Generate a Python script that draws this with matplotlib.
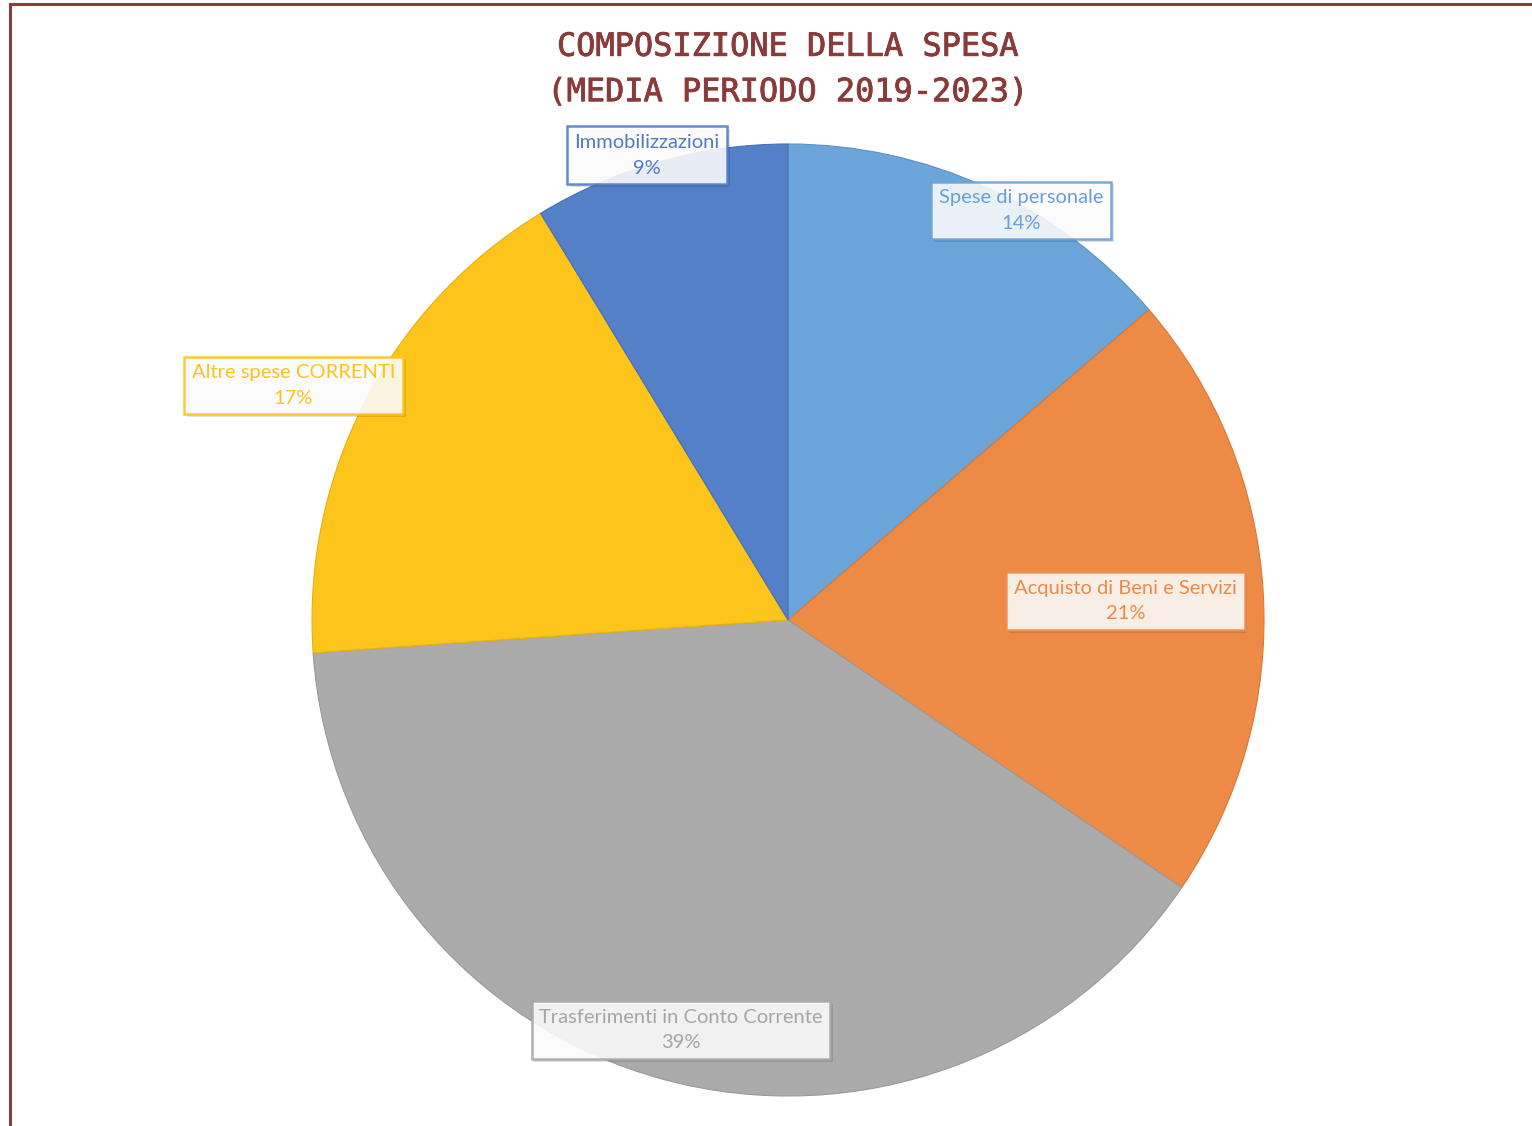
import numpy as np
import matplotlib
matplotlib.use('Agg')
import matplotlib.pyplot as plt
import matplotlib.patheffects as pe
from matplotlib.lines import Line2D

# data (percent of total spending)
labels = ['Spese di personale', 'Acquisto di Beni e Servizi',
          'Trasferimenti in Conto Corrente', 'Altre spese CORRENTI',
          'Immobilizzazioni']
values = [13.7, 20.8, 39.4, 17.4, 8.7]
colors = ['#6BA5D9', '#ED8A45', '#ABABAB', '#FDC41B', '#5480C8']
edges = ['#5B93C8', '#D9783A', '#9A9A9A', '#E8B010', '#4570B8']
textcols = ['#6A9FD6', '#EE8A48', '#A5A5A5', '#FFC21A', '#4F7BC6']
# label placement: radius (pie units) and angle nudge (deg)
label_r = [0.99, 0.71, 0.89, 1.15, 1.02]
label_da = [5, 0, -0.5, -2, -1.2]

fig = plt.figure(figsize=(15.32, 11.26), dpi=100)
fig.patch.set_facecolor('white')

# frame lines on top and left
fig.add_artist(Line2D([10/1532, 1], [1-4/1126, 1-4/1126], color='#8E3B3B', lw=2.2))
fig.add_artist(Line2D([10/1532, 10/1532], [0, 1-4/1126], color='#8E3B3B', lw=2.2))

cx, cy, r = 788/1532, 1-620/1126, 476
ax = fig.add_axes([cx - r/1532, cy - r/1126, 2*r/1532, 2*r/1126])
wedges, _ = ax.pie(values, colors=colors, startangle=90, counterclock=False,
                   wedgeprops=dict(linewidth=0.8))
for w, ec in zip(wedges, edges):
    w.set_edgecolor(ec)
ax.set_xlim(-1, 1)
ax.set_ylim(-1, 1)
ax.set_aspect('equal')
ax.axis('off')

total = sum(values)
cum = np.cumsum([0] + values[:-1])
for i, lab in enumerate(labels):
    mid = (cum[i] + values[i]/2) / total * 360 + label_da[i]
    ang = np.deg2rad(90 - mid)
    x, y = label_r[i]*np.cos(ang), label_r[i]*np.sin(ang)
    pct = '%d%%' % round(100 * values[i] / total)
    t = ax.text(x, y, lab + '\n' + pct, ha='center', va='center',
                fontsize=14.5, family='Lato', color=textcols[i], linespacing=1.6,
                bbox=dict(boxstyle='square,pad=0.38', fc='white', alpha=0.88,
                          ec=textcols[i], lw=1.8))
    t.get_bbox_patch().set_path_effects([
        pe.SimplePatchShadow(offset=(2, -2), shadow_rgbFace='black', alpha=0.12),
        pe.Normal()])

title_col = '#8B3A3A'
fig.text(788/1532, 1-70/1126, 'COMPOSIZIONE DELLA SPESA\n(MEDIA PERIODO 2019-2023)',
         ha='center', va='center', fontsize=23, family='DejaVu Sans Mono',
         color=title_col, linespacing=1.6,
         path_effects=[pe.withStroke(linewidth=0.6, foreground=title_col)])

fig.savefig('out.png', dpi=100)
